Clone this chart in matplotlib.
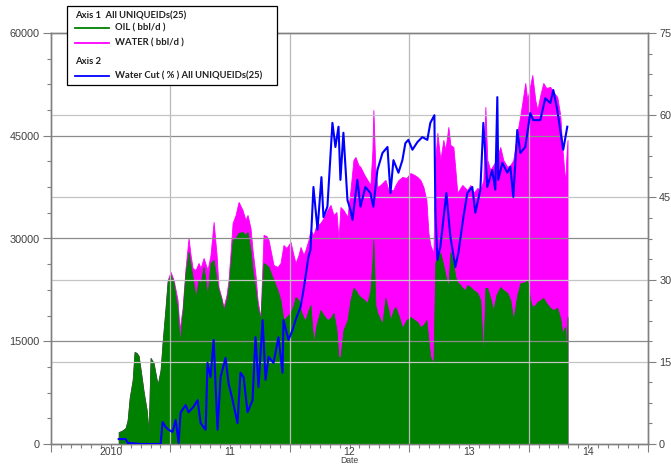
import numpy as np
import matplotlib
matplotlib.use("Agg")
import matplotlib.pyplot as plt
from matplotlib.lines import Line2D
from matplotlib.patches import Rectangle
from matplotlib.ticker import MultipleLocator, NullFormatter

# production dates as decimal years
dates = [2010.567, 2010.592, 2010.625, 2010.642, 2010.659, 2010.684, 2010.700, 2010.717,
         2010.734, 2010.759, 2010.776, 2010.801, 2010.818, 2010.834, 2010.859, 2010.893,
         2010.918, 2010.935, 2010.960, 2010.977, 2011.002, 2011.027, 2011.060, 2011.077,
         2011.102, 2011.127, 2011.152, 2011.169, 2011.186, 2011.211, 2011.236, 2011.253,
         2011.278, 2011.311, 2011.336, 2011.362, 2011.387, 2011.403, 2011.428, 2011.445,
         2011.470, 2011.487, 2011.521, 2011.546, 2011.571, 2011.604, 2011.629, 2011.646,
         2011.671, 2011.688, 2011.713, 2011.730, 2011.755, 2011.780, 2011.805, 2011.822,
         2011.847, 2011.864, 2011.897, 2011.922, 2011.947, 2011.972, 2012.006, 2012.031,
         2012.048, 2012.073, 2012.090, 2012.115, 2012.131, 2012.156, 2012.173, 2012.198,
         2012.223, 2012.257, 2012.282, 2012.315, 2012.341, 2012.366, 2012.391, 2012.408,
         2012.424, 2012.449, 2012.483, 2012.508, 2012.533, 2012.550, 2012.575, 2012.592,
         2012.625, 2012.650, 2012.675, 2012.692, 2012.700, 2012.717, 2012.734, 2012.759,
         2012.776, 2012.801, 2012.826, 2012.843, 2012.868, 2012.885, 2012.910, 2012.943,
         2012.977, 2013.010, 2013.044, 2013.069, 2013.094, 2013.119, 2013.144, 2013.161,
         2013.177, 2013.203, 2013.219, 2013.236, 2013.261, 2013.286, 2013.303, 2013.328,
         2013.345, 2013.370, 2013.387, 2013.403, 2013.428, 2013.445, 2013.470, 2013.487,
         2013.512, 2013.537, 2013.571, 2013.596, 2013.621, 2013.638, 2013.654, 2013.679,
         2013.705, 2013.730, 2013.763, 2013.788, 2013.822, 2013.847, 2013.872, 2013.905,
         2013.931, 2013.947, 2013.972, 2013.989, 2014.014, 2014.031, 2014.056, 2014.073,
         2014.098, 2014.123, 2014.148, 2014.182, 2014.207, 2014.240, 2014.265, 2014.282,
         2014.307, 2014.315, 2014.326]

oil = [1750, 1900, 2340, 3500, 6720, 9340, 13430, 13290,
       12850, 9780, 7590, 4960, 1750, 12560, 11830, 8610,
       10800, 14890, 20000, 23650, 24670, 23500, 19560, 14750,
       19130, 24970, 28030, 26130, 24380, 21460, 23940, 23500,
       25840, 21750, 26430, 26860, 23940, 22480, 21020, 19560,
       21020, 22920, 29780, 30080, 30810, 30950, 30510, 30950,
       28320, 25400, 22480, 20000, 18100, 26430, 26130, 25840,
       24670, 23940, 22480, 21020, 18100, 18540, 19130, 20290,
       21460, 21020, 19560, 18400, 18100, 19560, 20290, 14750,
       17370, 19560, 18830, 18100, 18400, 19130, 16640, 12700,
       12700, 16640, 18100, 21020, 22780, 22480, 21750, 21460,
       21020, 20590, 22480, 26860, 29780, 20290, 19130, 18100,
       17670, 21320, 19560, 18100, 19560, 20000, 18830, 16940,
       18100, 18540, 18100, 17810, 17080, 17370, 18100, 15180,
       12700, 11830, 26570, 27160, 27890, 26130, 24670, 22920,
       28030, 26130, 24380, 23650, 23210, 22780, 22480, 23210,
       22920, 22480, 22050, 21020, 12700, 22780, 22780, 21320,
       19560, 21750, 22920, 22480, 22050, 21020, 18100, 21750,
       23500, 23500, 23650, 23940, 21020, 20000, 20290, 20730,
       21020, 21320, 20590, 19860, 19560, 19860, 18400, 16210,
       17080, 11830, 18540]

water = [0, 0, 0, 0, 0, 0, 0, 0,
         0, 0, 0, 0, 0, 0, 0, 0,
         0, 0, 0, 290, 440, 440, 1460, 1900,
         730, 730, 2040, 1460, 1310, 3940, 2480, 2190,
         1310, 3650, 1170, 5550, 3650, 440, 290, 440,
         730, 1020, 2480, 3360, 4530, 3210, 2190, 2480,
         3210, 2920, 2190, 1020, 290, 4090, 4230, 3940,
         2920, 2190, 3360, 5400, 10950, 10070, 10370, 7300,
         4960, 6570, 9200, 9200, 10220, 10220, 10950, 15770,
         14600, 12700, 14160, 16060, 16500, 14310, 17230, 17080,
         21900, 17520, 15040, 16060, 18690, 19420, 18980, 18980,
         18250, 17960, 15330, 16060, 18980, 19710, 18400, 19710,
         20440, 17230, 17520, 18980, 17520, 17810, 19710, 22050,
         20730, 21020, 21170, 21170, 21460, 20150, 17520, 15620,
         16350, 16060, 14890, 18250, 13580, 18250, 18250, 23360,
         15620, 17230, 15620, 12990, 14160, 15040, 14890, 13870,
         14890, 14160, 15330, 16060, 25840, 26430, 18690, 18690,
         21170, 19710, 20440, 18980, 18400, 19710, 23360, 23650,
         24530, 26280, 29050, 26280, 31390, 33870, 29930, 28030,
         29930, 31390, 31390, 32270, 31830, 30810, 29640, 27160,
         21020, 29640, 25840]

wc_dates = [2010.567, 2010.625, 2010.642, 2010.751, 2010.918, 2010.935, 2010.960, 2010.985,
            2011.018, 2011.044, 2011.069, 2011.085, 2011.127, 2011.152, 2011.194, 2011.228,
            2011.253, 2011.295, 2011.311, 2011.336, 2011.362, 2011.395, 2011.420, 2011.462,
            2011.487, 2011.521, 2011.562, 2011.587, 2011.613, 2011.646, 2011.688, 2011.713,
            2011.738, 2011.772, 2011.797, 2011.822, 2011.864, 2011.905, 2011.939, 2011.947,
            2011.989, 2012.023, 2012.048, 2012.090, 2012.115, 2012.156, 2012.173, 2012.198,
            2012.232, 2012.265, 2012.282, 2012.315, 2012.357, 2012.382, 2012.408, 2012.424,
            2012.449, 2012.483, 2012.508, 2012.525, 2012.566, 2012.592, 2012.633, 2012.675,
            2012.700, 2012.734, 2012.776, 2012.818, 2012.843, 2012.868, 2012.910, 2012.943,
            2012.968, 2012.993, 2013.027, 2013.069, 2013.110, 2013.152, 2013.177, 2013.211,
            2013.219, 2013.236, 2013.261, 2013.311, 2013.345, 2013.387, 2013.412, 2013.454,
            2013.487, 2013.528, 2013.554, 2013.596, 2013.621, 2013.654, 2013.695, 2013.721,
            2013.738, 2013.746, 2013.780, 2013.822, 2013.847, 2013.872, 2013.905, 2013.931,
            2013.972, 2014.014, 2014.039, 2014.098, 2014.140, 2014.182, 2014.207, 2014.240,
            2014.265, 2014.290, 2014.324]

water_cut = [0.9, 0.9, 0.2, 0.0, 0.0, 4.0, 3.1, 2.6,
             2.2, 4.4, 0.2, 5.7, 7.1, 5.8, 6.8, 8.0,
             3.8, 2.6, 14.8, 12.2, 19.0, 2.6, 12.2, 15.7,
             11.1, 8.0, 3.8, 13.0, 12.2, 5.8, 8.0, 19.5,
             10.4, 22.6, 11.7, 15.9, 14.8, 19.5, 13.0, 22.6,
             19.0, 20.8, 22.6, 25.0, 28.1, 34.1, 35.4, 46.9,
             39.1, 48.7, 41.4, 43.3, 58.6, 54.2, 57.9, 48.2,
             56.8, 44.5, 42.7, 40.9, 48.2, 43.3, 46.9, 45.8,
             43.3, 50.0, 53.1, 54.2, 45.8, 51.8, 49.5, 51.8,
             54.9, 55.5, 53.7, 55.1, 56.0, 55.5, 58.6, 60.0,
             42.7, 33.6, 36.0, 45.8, 37.8, 32.3, 34.9, 41.4,
             45.8, 46.9, 42.2, 46.4, 58.6, 46.9, 50.0, 46.4,
             63.3, 48.2, 51.3, 49.5, 50.6, 45.1, 57.3, 53.1,
             54.2, 60.4, 59.1, 59.1, 63.1, 62.2, 64.6, 61.0,
             57.3, 53.7, 57.9]

year_labels = ["2010", "11", "12", "13", "14"]

GREEN, MAGENTA, BLUE = "#008000", "#FF00FF", "#0000FF"
TXT, SPINE = "#404040", "#808080"
plt.rcParams["font.family"] = ["Liberation Sans", "DejaVu Sans"]

W, H = 671, 465
fig = plt.figure(figsize=(W / 100, H / 100), dpi=100)
ax = fig.add_axes([51 / W, 21 / H, 597 / W, 411 / H])
ax2 = ax.twinx()

x = np.array(dates)
o = np.array(oil)
w = np.array(water)
ax.fill_between(x, 0, o + w, color=MAGENTA, lw=0.6, edgecolor=MAGENTA, zorder=2)
ax.fill_between(x, 0, o, color=GREEN, lw=0.6, edgecolor=GREEN, zorder=3)

ax.set_xlim(2010, 2015)
ax.set_ylim(0, 60000)
ax2.set_ylim(0, 75)

# grids on top of the fills
for v in (15000, 30000, 45000):
    ax.axhline(v, color="#8c8c8c", lw=0.9, zorder=4)
for yr in (2011, 2012, 2013, 2014):
    ax.axvline(yr, color="#b8b8b8", lw=0.9, zorder=4)
for v in (15, 30, 45, 60):
    ax2.axhline(v, color="#c4c4c4", lw=0.9, zorder=1)

ax2.plot(wc_dates, water_cut, color=BLUE, lw=1.5, zorder=5)

ax.yaxis.set_major_locator(MultipleLocator(15000))
ax.yaxis.set_minor_locator(MultipleLocator(3750))
ax2.yaxis.set_major_locator(MultipleLocator(15))
ax2.yaxis.set_minor_locator(MultipleLocator(3.75))
ax.xaxis.set_major_locator(MultipleLocator(1))
ax.xaxis.set_major_formatter(NullFormatter())
ax.xaxis.set_minor_locator(MultipleLocator(1 / 12))
ax.xaxis.set_minor_formatter(NullFormatter())

for a in (ax, ax2):
    for s in a.spines.values():
        s.set_color(SPINE)
        s.set_linewidth(1.0)
    a.tick_params(which="major", length=6, width=0.8, color=SPINE,
                  labelsize=7.8, labelcolor=TXT, pad=2)
    a.tick_params(which="minor", length=3, width=0.8, color=SPINE)

for i, lab in enumerate(year_labels):
    ax.text(2010.5 + i, -0.008, lab, transform=ax.get_xaxis_transform(),
            ha="center", va="top", fontsize=7.5, color=TXT)


def fx(px):
    return px / W


def fy(py):
    return 1 - py / H


fig.text(fx(349), fy(465), "Date", ha="center", va="bottom",
         fontsize=6.2, color=TXT)

# legend box
fig.add_artist(Rectangle((fx(67), fy(85)), fx(277) - fx(67), fy(6) - fy(85),
                         transform=fig.transFigure, facecolor="white",
                         edgecolor="black", lw=0.9, zorder=10))
lkw = dict(fontsize=6.8, fontweight="bold", color="#202020", va="center",
           family=["Lato", "DejaVu Sans"], zorder=11)
fig.text(fx(75), fy(16), "Axis 1  All UNIQUEIDs(25)", **lkw)
fig.text(fx(75), fy(61), "Axis 2", **lkw)
for py, col, lab in ((28, GREEN, "OIL ( bbl/d )"),
                     (43, MAGENTA, "WATER ( bbl/d )"),
                     (76, BLUE, "Water Cut ( % ) All UNIQUEIDs(25)")):
    fig.add_artist(Line2D([fx(75), fx(109)], [fy(py), fy(py)], color=col,
                          lw=1.3, transform=fig.transFigure, zorder=11))
    fig.text(fx(115), fy(py), lab, **lkw)

fig.savefig("out.png", dpi=100)
